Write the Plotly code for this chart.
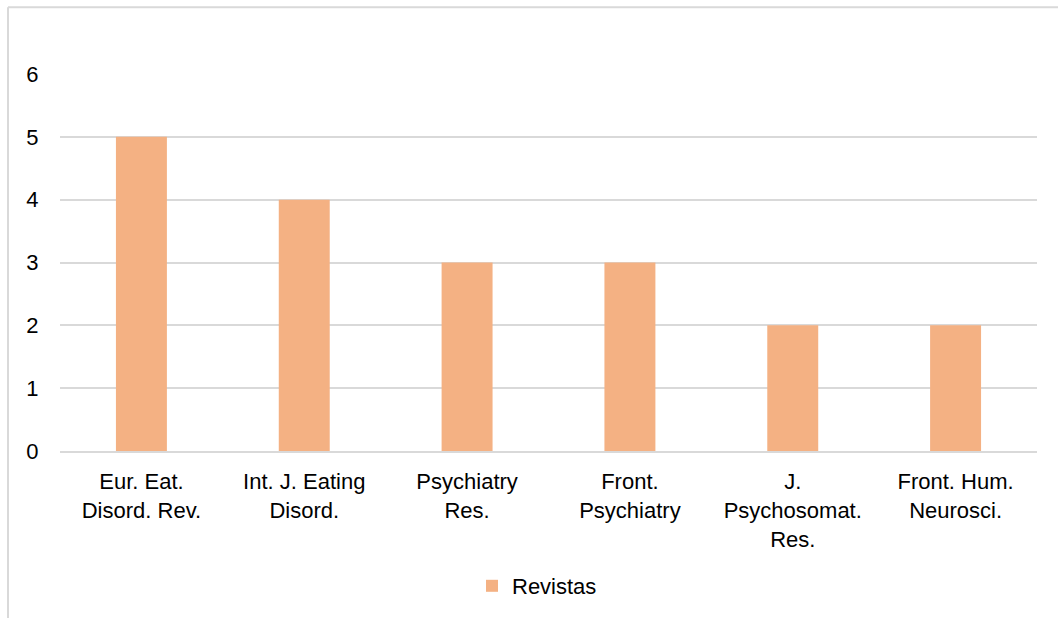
import plotly.graph_objects as go

categories = ["Eur. Eat.<br>Disord. Rev.", "Int. J. Eating<br>Disord.", "Psychiatry<br>Res.",
              "Front.<br>Psychiatry", "J.<br>Psychosomat.<br>Res.", "Front. Hum.<br>Neurosci."]
values = [5, 4, 3, 3, 2, 2]
series_name = "Revistas"

fig = go.Figure()
fig.add_trace(go.Bar(x=categories, y=values, name=series_name,
                     marker=dict(color="#F4B183", line=dict(width=0)),
                     width=0.313))

L, R, T, B = 60, 21, 74, 166
W, H = 1058, 618
pw = W - L - R
ph = H - T - B

def px(x):
    return (x - L) / pw

def py(y):
    return (H - B - y) / ph

fig.update_layout(
    width=W, height=H,
    margin=dict(l=L, r=R, t=T, b=B),
    paper_bgcolor="white", plot_bgcolor="white",
    font=dict(family="Liberation Sans, Arial, sans-serif", size=22, color="#000000"),
    showlegend=True,
    legend=dict(orientation="h", x=px(472), xanchor="left", y=py(586), yanchor="middle",
                font=dict(size=22), itemwidth=30),
    bargap=0.687,
    xaxis=dict(showgrid=False, showline=True, linecolor="#D9D9D9", linewidth=2,
               ticks="outside", ticklen=10, tickcolor="rgba(0,0,0,0)", fixedrange=True),
    yaxis=dict(range=[0, 6], dtick=1, showgrid=True, gridcolor="#D9D9D9", gridwidth=2,
               zeroline=False, showline=False, ticks="outside", ticklen=16,
               tickcolor="rgba(0,0,0,0)", fixedrange=True),
    shapes=[
        dict(type="line", xref="paper", yref="paper", x0=px(8), x1=px(1060), y0=py(7), y1=py(7),
             line=dict(color="#D9D9D9", width=2)),
        dict(type="line", xref="paper", yref="paper", x0=px(8), x1=px(8), y0=py(7), y1=py(620),
             line=dict(color="#D9D9D9", width=2)),
    ],
)

fig.write_html("out.html")
